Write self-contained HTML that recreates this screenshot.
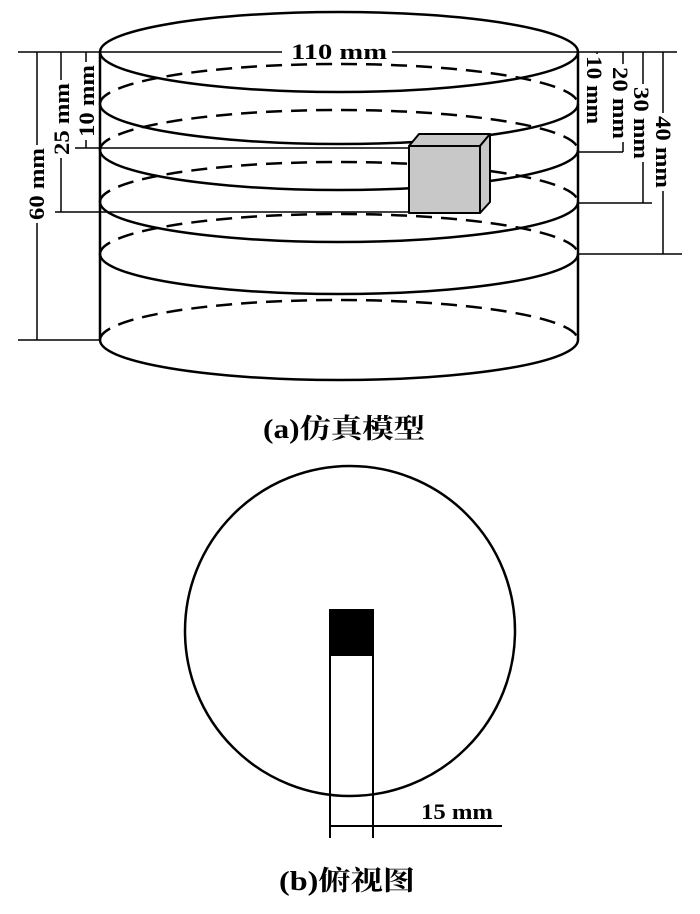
<!DOCTYPE html>
<html><head><meta charset="utf-8"><style>body{margin:0;background:#fff}svg{display:block}</style></head>
<body>
<svg width="700" height="914" viewBox="0 0 700 914" xmlns="http://www.w3.org/2000/svg" font-family="Liberation Serif, Noto Serif CJK SC, serif" font-weight="bold">
<g fill="none" stroke="#000" stroke-width="2.5">
 <ellipse cx="339" cy="52" rx="239" ry="40"/>
 <g stroke-dasharray="16,9">
  <path d="M100 104 A239 40 0 0 1 578 104"/>
  <path d="M100 150 A239 40 0 0 1 578 150"/>
  <path d="M100 202 A239 40 0 0 1 578 202"/>
  <path d="M100 254 A239 40 0 0 1 578 254"/>
  <path d="M100 340 A239 40 0 0 1 578 340"/>
 </g>
 <path d="M100 104 A239 40 0 0 0 578 104"/>
 <path d="M100 150 A239 40 0 0 0 578 150"/>
 <path d="M100 202 A239 40 0 0 0 578 202"/>
 <path d="M100 254 A239 40 0 0 0 578 254"/>
 <path d="M100 340 A239 40 0 0 0 578 340"/>
 <line x1="100" y1="52" x2="100" y2="340"/>
 <line x1="578" y1="52" x2="578" y2="340"/>
</g>
<g stroke="#000" stroke-width="1.5" fill="none">
 <line x1="18" y1="52" x2="282" y2="52"/>
 <line x1="392" y1="52" x2="677" y2="52"/>
 <line x1="18" y1="340" x2="100" y2="340"/>
 <line x1="37" y1="52" x2="37" y2="340"/>
 <line x1="61" y1="52" x2="61" y2="212"/>
 <line x1="55" y1="212" x2="409" y2="212"/>
 <line x1="86" y1="52" x2="86" y2="148"/>
 <line x1="75" y1="148" x2="409" y2="148"/>
 <line x1="597" y1="52" x2="597" y2="60"/>
 <line x1="623" y1="52" x2="623" y2="152"/>
 <line x1="578" y1="152" x2="623" y2="152"/>
 <line x1="643" y1="52" x2="643" y2="203"/>
 <line x1="578" y1="203" x2="652" y2="203"/>
 <line x1="663" y1="52" x2="663" y2="254"/>
 <line x1="578" y1="254" x2="682" y2="254"/>
</g>
<g fill="#fff">
 <rect x="27" y="145" width="20" height="78"/>
 <rect x="52" y="80" width="20" height="78"/>
 <rect x="77" y="62" width="20" height="78"/>
 <rect x="584" y="54" width="20" height="72"/>
 <rect x="611" y="64" width="20" height="78"/>
 <rect x="632" y="84" width="20" height="78"/>
 <rect x="653" y="113" width="20" height="78"/>
</g>
<g stroke="#000" stroke-width="2" fill="#c8c8c8" stroke-linejoin="round">
 <polygon points="409,146 480,146 490,134 419,134"/>
 <polygon points="480,146 490,134 490,202 480,213"/>
 <rect x="409" y="146" width="71" height="67"/>
</g>
<g font-size="22" fill="#000" text-anchor="middle">
 <text x="339" y="59" textLength="96" lengthAdjust="spacingAndGlyphs">110 mm</text>
 <text transform="translate(44,184) rotate(-90)" textLength="72" lengthAdjust="spacingAndGlyphs">60 mm</text>
 <text transform="translate(69,119) rotate(-90)" textLength="72" lengthAdjust="spacingAndGlyphs">25 mm</text>
 <text transform="translate(94,101) rotate(-90)" textLength="72" lengthAdjust="spacingAndGlyphs">10 mm</text>
 <text transform="translate(587,90) rotate(90)" textLength="68" lengthAdjust="spacingAndGlyphs">10 mm</text>
 <text transform="translate(613,103) rotate(90)" textLength="72" lengthAdjust="spacingAndGlyphs">20 mm</text>
 <text transform="translate(634,123) rotate(90)" textLength="72" lengthAdjust="spacingAndGlyphs">30 mm</text>
 <text transform="translate(656,152) rotate(90)" textLength="72" lengthAdjust="spacingAndGlyphs">40 mm</text>
</g>
<text x="344" y="438" font-size="27" text-anchor="middle" textLength="162" lengthAdjust="spacingAndGlyphs">(a)仿真模型</text>
<circle cx="350" cy="631" r="165" fill="none" stroke="#000" stroke-width="2.5"/>
<rect x="329" y="609" width="44" height="47" fill="#000"/>
<g stroke="#000" stroke-width="2" fill="none">
 <line x1="330" y1="656" x2="330" y2="838"/>
 <line x1="373" y1="609" x2="373" y2="838"/>
 <line x1="329" y1="826" x2="502" y2="826"/>
</g>
<text x="421" y="819" font-size="22" textLength="72" lengthAdjust="spacingAndGlyphs">15 mm</text>
<text x="347" y="890" font-size="27" text-anchor="middle" textLength="136" lengthAdjust="spacingAndGlyphs">(b)俯视图</text>
</svg>
</body></html>
